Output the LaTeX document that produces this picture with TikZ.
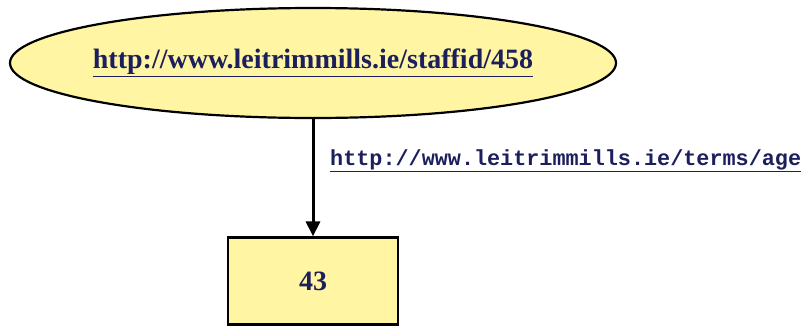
\documentclass[tikz,border=0pt]{standalone}
\usepackage{fontspec}
\setmainfont{Liberation Serif}
\setmonofont{Liberation Mono}
\usepackage{tikz}
\usetikzlibrary{positioning,arrows.meta,shapes.geometric}
\definecolor{nodecol}{HTML}{FFF5A3}
\definecolor{urlcol}{HTML}{1B1F5C}

\begin{document}
\begin{tikzpicture}[x=1pt,y=-1pt,
   res/.style={ellipse,draw,line width=2.2pt,fill=nodecol,minimum width=606pt,
              minimum height=110pt,inner sep=0pt,text=urlcol,
              font=\fontsize{28}{32}\selectfont\bfseries},
   lit/.style={rectangle,draw,line width=2.2pt,fill=nodecol,minimum width=170pt,
              minimum height=87pt,inner sep=0pt,text=urlcol,
              font=\fontsize{28}{32}\selectfont\bfseries},
   prop/.style={text=urlcol,font=\ttfamily\fontsize{21.8}{24}\selectfont\bfseries,
              inner sep=0pt,anchor=base west},
   >={Triangle[length=15pt,width=14pt]},
]
\useasboundingbox (0,0) rectangle (809,327);
\node[res] (staff) at (313,63)
   {\makebox[0pt]{\underline{http://www.leitrimmills.ie/staffid/458}}};
\node[lit] (age) at (313,281) {43};

\draw[->,line width=3pt] (staff.south -| age.north) -- (age.north);
\node[prop] (agelbl) at (330,165) {\underline{http://www.leitrimmills.ie/terms/age}};
\end{tikzpicture}
\end{document}
